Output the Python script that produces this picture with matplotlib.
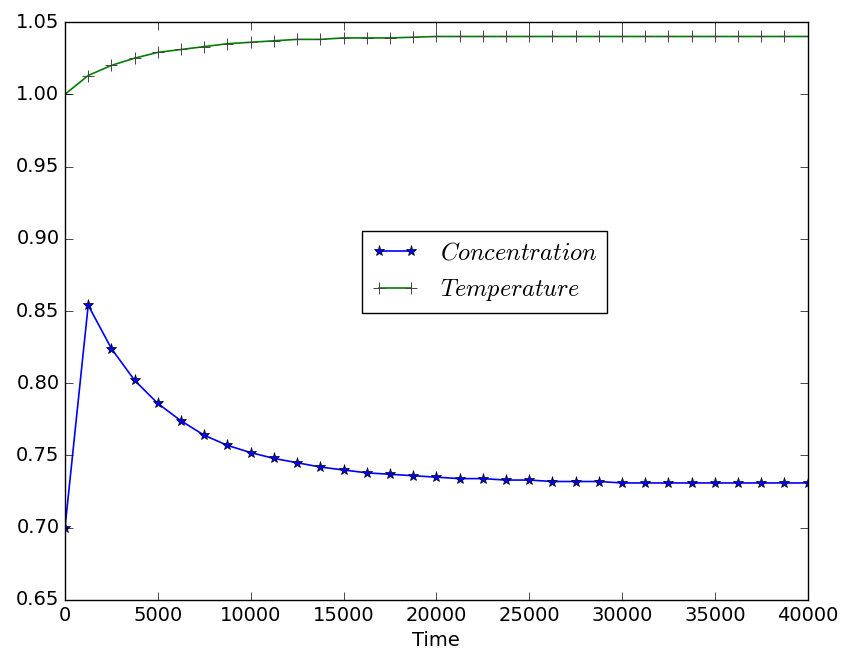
import matplotlib
matplotlib.use("Agg")
import matplotlib.pyplot as plt
import numpy as np

plt.style.use('classic')
plt.rcParams['mathtext.fontset'] = 'cm'
plt.rcParams['font.family'] = ['DejaVu Sans']

time = [0, 1250, 2500, 3750, 5000, 6250, 7500, 8750, 10000, 11250, 12500, 13750,
        15000, 16250, 17500, 18750, 20000, 21250, 22500, 23750, 25000, 26250,
        27500, 28750, 30000, 31250, 32500, 33750, 35000, 36250, 37500, 38750, 40000]

concentration = [0.700, 0.854, 0.824, 0.802, 0.786, 0.774, 0.764, 0.757, 0.752, 0.748,
                 0.745, 0.742, 0.740, 0.738, 0.737, 0.736, 0.735, 0.734, 0.734, 0.733,
                 0.733, 0.732, 0.732, 0.732, 0.731, 0.731, 0.731, 0.731, 0.731, 0.731,
                 0.731, 0.731, 0.731]

temperature = [1.000, 1.013, 1.020, 1.025, 1.029, 1.031, 1.033, 1.035, 1.036, 1.037,
               1.038, 1.038, 1.039, 1.039, 1.039, 1.0395, 1.040, 1.040, 1.040, 1.040,
               1.040, 1.040, 1.040, 1.040, 1.040, 1.040, 1.040, 1.040, 1.040, 1.040,
               1.040, 1.040, 1.040]

yticks = [0.65, 0.70, 0.75, 0.80, 0.85, 0.90, 0.95, 1.00, 1.05]
xticks = [0, 5000, 10000, 15000, 20000, 25000, 30000, 35000, 40000]

fig = plt.figure(figsize=(8.44, 6.56), dpi=100, facecolor='white')
ax = fig.add_axes([0.077, 0.0854, 0.880, 0.881])
ax.set_facecolor('white')

ax.plot(time, concentration, color='b', marker='*', markersize=8,
        markeredgecolor='k', markeredgewidth=0.5, linewidth=1.2,
        label=r'$Concentration$')
ax.plot(time, temperature, color='g', marker='+', markersize=8,
        markeredgecolor='#444444', markeredgewidth=0.7, linewidth=1.2,
        label=r'$Temperature$')

ax.set_xlim(0, 40000)
ax.set_ylim(0.65, 1.05)
ax.set_xticks(xticks)
ax.set_yticks(yticks)
ax.set_yticklabels([f'{v:.2f}' for v in yticks])
ax.set_xticklabels([str(v) for v in xticks])
ax.tick_params(labelsize=14, direction='in', length=6, top=True, right=True)
ax.set_xlabel('Time', fontsize=14)

leg = ax.legend(loc='upper left', bbox_to_anchor=(0.40, 0.638), fontsize=17.5,
                numpoints=2, frameon=True, fancybox=False, borderaxespad=0,
                handlelength=1.9, handletextpad=0.9)
leg.get_frame().set_edgecolor('k')

fig.savefig('out.png', dpi=100, facecolor='white')
